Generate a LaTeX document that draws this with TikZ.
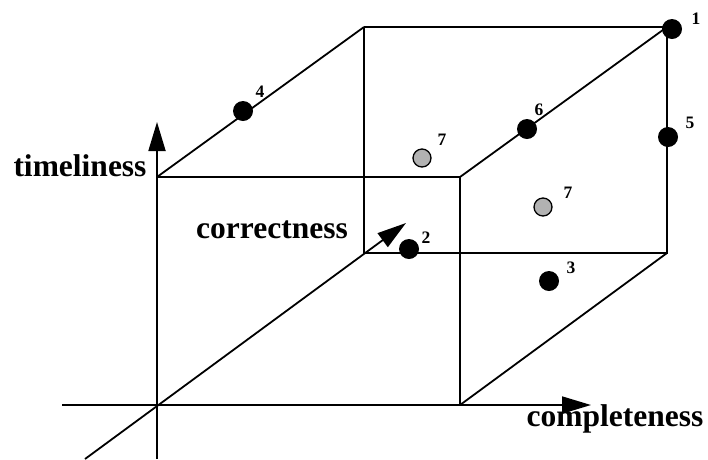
\documentclass[tikz,border=0pt]{standalone}
\usepackage{fontspec}
\setmainfont{Liberation Serif}
\usetikzlibrary{arrows.meta}
\tikzset{
  edge/.style={line width=1.8pt},
  axis/.style={line width=1.8pt,-{Triangle[length=29pt,width=17pt]}},
  axlabel/.style={font=\fontsize{31.5}{36}\selectfont\bfseries,inner sep=0pt},
  blackdot/.style={circle,fill=black,minimum size=20pt,inner sep=0pt},
  greydot/.style={circle,fill=gray!60,draw=black,line width=1.3pt,minimum size=18pt,inner sep=0pt},
  num/.style={font=\fontsize{17.5}{20}\selectfont\bfseries,inner sep=0pt}
}
\begin{document}
\begin{tikzpicture}[x=1pt,y=-1pt]
\useasboundingbox (0,0) rectangle (708,459);
% cube corners
\coordinate (O) at (157,405);
\coordinate (FR) at (460,405);
\coordinate (FTR) at (460,177);
\coordinate (FTL) at (157,177);
\coordinate (BL) at (364,253);
\coordinate (BR) at (667,253);
\coordinate (BTL) at (364,27);
\coordinate (BTR) at (667,27);
% axis ends
\coordinate (xs) at (62,405);
\coordinate (xe) at (591,405);
\coordinate (ys) at (157,459);
\coordinate (ye) at (157,122);
\coordinate (zs) at (85,459);
\coordinate (ze) at (406,223);
% cube edges
\draw[edge] (FTL) -- (FTR) -- (FR);
\draw[edge] (BTL) -- (BTR) -- (BR) -- (BL) -- (BTL);
\draw[edge] (FTL) -- (BTL);
\draw[edge] (FTR) -- (BTR);
\draw[edge] (FR) -- (BR);
% axes
\draw[axis] (xs) -- (xe);
\draw[axis] (ys) -- (ye);
\draw[axis] (zs) -- (ze);
% axis labels
\node[axlabel] (tl) at (80,166) {timeliness};
\node[axlabel] (cr) at (272,230) {correctness};
\node[axlabel] (cp) at (615,419) {completeness};
% points
\node[blackdot] (p1) at (672,29) {};
\node[num] (l1) at (696,19) {1};
\node[blackdot] (p2) at (409,249) {};
\node[num] (l2) at (426,238) {2};
\node[blackdot] (p3) at (549,281) {};
\node[num] (l3) at (571,268) {3};
\node[blackdot] (p4) at (243,111) {};
\node[num] (l4) at (260,92) {4};
\node[blackdot] (p5) at (668,137) {};
\node[num] (l5) at (690,123) {5};
\node[blackdot] (p6) at (527,129) {};
\node[num] (l6) at (539,110) {6};
\node[greydot] (p7a) at (422,158) {};
\node[num] (l7a) at (442,140) {7};
\node[greydot] (p7b) at (543,207) {};
\node[num] (l7b) at (568,193) {7};
\end{tikzpicture}
\end{document}
